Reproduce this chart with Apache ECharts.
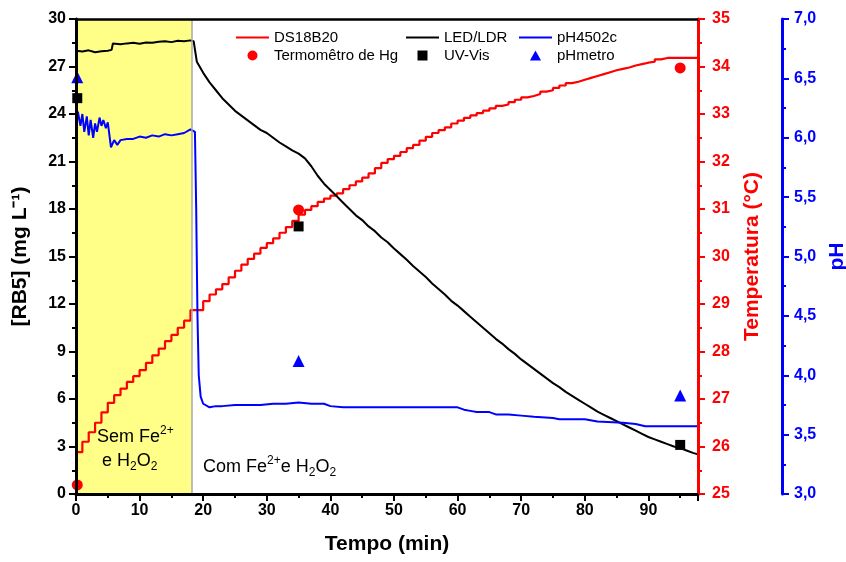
<!DOCTYPE html>
<html>
<head>
<meta charset="utf-8">
<script src="https://cdn.jsdelivr.net/npm/echarts@6/dist/echarts.min.js"></script>
<style>
  html, body { margin: 0; padding: 0; background: #fff; }
  #chart { width: 846px; height: 562px; }
</style>
</head>
<body>
<div id="chart"></div>
<script>
// DS18B20 temperatura (°C), leitura a cada minuto
const tempTime = [0,1,2,3,4,5,6,7,8,9,10,11,12,13,14,15,16,17,18,19,20,21,22,23,24,25,26,27,28,29,30,31,32,33,34,35,36,37,38,39,40,41,42,43,44,45,46,47,48,49,50,51,52,53,54,55,56,57,58,59,60,61,62,63,64,65,66,67,68,69,70,71,72,73,74,75,76,77,78,79,80,81,82,83,84,85,86,87,88,89,90,91,92,93,94,95,96,97,97.8]
const tempVals = [25.88,26.10,26.30,26.50,26.72,26.92,27.08,27.22,27.36,27.48,27.61,27.76,27.92,28.06,28.22,28.35,28.50,28.65,28.87,28.87,29.06,29.20,29.31,29.42,29.56,29.70,29.83,29.95,30.06,30.18,30.28,30.38,30.50,30.62,30.75,30.88,30.98,31.06,31.15,31.22,31.28,31.33,31.42,31.50,31.58,31.66,31.75,31.86,31.97,32.05,32.12,32.20,32.28,32.35,32.44,32.52,32.60,32.66,32.72,32.80,32.86,32.92,32.97,33.02,33.07,33.12,33.17,33.20,33.25,33.30,33.35,33.38,33.42,33.47,33.50,33.55,33.60,33.65,33.68,33.72,33.76,33.80,33.84,33.88,33.92,33.95,33.98,34.02,34.05,34.08,34.10,34.15,34.18,34.18,34.18,34.18,34.18,34.18,34.18]

// LED/LDR [RB5] (mg L-1)
const ldrTime = [0,1,2,3,4,5,5.6,5.8,7,8,9,10,11,12,13,14,15,16,17,18,18.5,19,20,21,22,23,24,25,26,27,28,29,30,31,32,33,34,35,36,37,38,39,40,41,42,43,44,45,46,47,48,49,50,51,52,53,54,55,56,57,58,59,60,61,62,63,64,65,66,67,68,69,70,71,72,73,74,75,76,77,78,79,80,81,82,83,84,85,86,87,88,89,90,91,92,93,94,95,96,97,97.8]
const ldrVals = [28.0,27.95,28.02,27.9,27.96,28.0,28.05,28.45,28.4,28.46,28.5,28.44,28.52,28.5,28.56,28.6,28.54,28.62,28.6,28.65,28.6,27.3,26.6,26.0,25.5,25.0,24.6,24.2,23.9,23.6,23.3,23.0,22.8,22.5,22.2,21.95,21.7,21.5,21.2,20.7,20.1,19.6,19.2,18.8,18.4,18.0,17.6,17.3,16.9,16.6,16.2,15.9,15.5,15.15,14.8,14.4,14.05,13.7,13.3,12.95,12.6,12.2,11.9,11.55,11.2,10.85,10.5,10.15,9.8,9.5,9.15,8.85,8.5,8.2,7.9,7.6,7.3,7.0,6.75,6.45,6.2,5.95,5.7,5.45,5.2,5.0,4.8,4.6,4.4,4.2,4.0,3.8,3.6,3.45,3.3,3.15,3.0,2.9,2.75,2.6,2.5]

// pH4502c
const phTime = [0,0.3,0.7,1.0,1.3,1.7,2.0,2.3,2.7,3.0,3.3,3.7,4.0,4.3,4.7,5.0,5.5,6.0,6.5,7,8,9,10,11,12,13,14,15,16,17,18,18.7,18.9,19.1,19.3,19.6,20,21,22,23,25,27,29,31,33,35,37,39,40,42,45,50,55,60,61,62,63,65,66,68,70,72,75,76,80,82,86,88,89.5,97.8]
const phVals = [6.05,6.22,6.10,6.20,6.05,6.18,6.02,6.15,6.00,6.12,6.05,6.17,6.10,6.15,6.08,6.13,5.92,5.98,5.94,5.98,5.99,5.99,6.01,6.00,6.02,6.01,6.03,6.02,6.03,6.04,6.07,6.05,5.40,4.50,4.00,3.82,3.76,3.73,3.74,3.74,3.75,3.75,3.75,3.76,3.76,3.77,3.76,3.76,3.74,3.73,3.73,3.73,3.73,3.73,3.71,3.70,3.69,3.69,3.67,3.67,3.66,3.65,3.64,3.63,3.63,3.61,3.60,3.59,3.57,3.57]

// medidas de referência
const hgTime = [0.2, 35, 95]
const hgVals = [25.19, 30.98, 33.97]
const uvTime = [0.2, 35, 95]
const uvVals = [25.0, 16.9, 3.1]
const phmTime = [0.2, 35, 95]
const phmVals = [6.51, 4.12, 3.83]

const shadeEnd = 18.2

const pairs = (xs, ys) => xs.map((x, i) => [x, ys[i]])

const font = 'Liberation Sans, Arial, sans-serif'
const squareIcon = 'path://M0,0L10,0L10,10L0,10Z'
const triangleIcon = 'path://M5,0L10,9L0,9Z'
const chart = echarts.init(document.getElementById('chart'))

const legendBase = {
  orient: 'vertical',
  top: 25,
  itemWidth: 33,
  itemHeight: 10,
  itemGap: 3,
  symbolKeepAspect: true,
  textStyle: { fontFamily: font, fontSize: 15, color: '#000' },
  selectedMode: false
}

const hideSymbol = { opacity: 0 }

const option = {
  animation: false,
  textStyle: { fontFamily: font },
  grid: { left: 76, right: 148, top: 19, bottom: 68, outerBoundsMode: 'none', containLabel: false },
  legend: [
    Object.assign({ left: 230, data: [{ name: 'DS18B20', itemStyle: hideSymbol }, { name: 'Termomêtro de Hg', icon: 'circle' }] }, legendBase),
    Object.assign({ left: 400, data: [{ name: 'LED/LDR', itemStyle: hideSymbol }, { name: 'UV-Vis', icon: squareIcon }] }, legendBase),
    Object.assign({ left: 513, data: [{ name: 'pH4502c', itemStyle: hideSymbol }, { name: 'pHmetro', icon: triangleIcon }] }, legendBase)
  ],
  xAxis: [
    {
      type: 'value', min: 0, max: 97.8, interval: 10, z: 5,
      name: 'Tempo (min)', nameLocation: 'middle', nameGap: 40,
      nameTextStyle: { fontSize: 21, fontWeight: 'bold', color: '#000' },
      axisLine: { onZero: false, lineStyle: { color: '#000', width: 3 } },
      axisTick: { show: true, inside: false, length: 7, lineStyle: { width: 2, color: '#000' } },
      minorTick: { show: true, splitNumber: 2, length: 4, lineStyle: { width: 2, color: '#000' } },
      axisLabel: { fontSize: 16, fontWeight: 'bold', color: '#000', margin: 9, showMaxLabel: false },
      splitLine: { show: false }
    },
    {
      type: 'value', position: 'top', min: 0, max: 97.8, z: 5,
      axisLine: { onZero: false, lineStyle: { color: '#000', width: 2.5 } },
      axisTick: { show: false }, axisLabel: { show: false }, splitLine: { show: false }
    }
  ],
  yAxis: [
    {
      type: 'value', min: 0, max: 30, interval: 3, position: 'left', z: 5,
      name: '[RB5] (mg L⁻¹)', nameLocation: 'middle', nameGap: 45,
      nameTextStyle: { fontSize: 21, fontWeight: 'bold', color: '#000' },
      axisLine: { show: true, onZero: false, lineStyle: { color: '#000', width: 3 } },
      axisTick: { show: true, inside: false, length: 7, lineStyle: { width: 2, color: '#000' } },
      minorTick: { show: true, splitNumber: 2, length: 4, lineStyle: { width: 2, color: '#000' } },
      axisLabel: { fontSize: 16, fontWeight: 'bold', color: '#000', margin: 10 },
      splitLine: { show: false }
    },
    {
      type: 'value', min: 25, max: 35, interval: 1, position: 'right', offset: 0, z: 5,
      name: 'Temperatura (°C)', nameLocation: 'middle', nameGap: 44,
      nameTextStyle: { fontSize: 21, fontWeight: 'bold', color: '#f00' },
      axisLine: { show: true, onZero: false, lineStyle: { color: '#f00', width: 3 } },
      axisTick: { show: true, inside: false, length: 7, lineStyle: { width: 2, color: '#f00' } },
      minorTick: { show: true, splitNumber: 2, length: 4, lineStyle: { width: 2, color: '#f00' } },
      axisLabel: { fontSize: 16, fontWeight: 'bold', color: '#f00', margin: 14 },
      splitLine: { show: false }
    },
    {
      type: 'value', min: 3, max: 7, interval: 0.5, position: 'right', offset: 84, z: 5,
      name: 'pH', nameLocation: 'middle', nameGap: 43,
      nameTextStyle: { fontSize: 21, fontWeight: 'bold', color: '#00f' },
      axisLine: { show: true, onZero: false, lineStyle: { color: '#00f', width: 3 } },
      axisTick: { show: true, inside: false, length: 7, lineStyle: { width: 2, color: '#00f' } },
      minorTick: { show: true, splitNumber: 2, length: 4, lineStyle: { width: 2, color: '#00f' } },
      axisLabel: {
        fontSize: 16, fontWeight: 'bold', color: '#00f', margin: 12,
        formatter: v => v.toFixed(1).replace('.', ',')
      },
      splitLine: { show: false }
    }
  ],
  graphic: [
    {
      type: 'text', left: 97, top: 425, silent: true, z: 10,
      style: {
        text: '{a|Sem Fe}{s|2+}',
        rich: {
          a: { fontSize: 18, lineHeight: 24, fontFamily: font, fill: '#000' },
          s: { fontSize: 12, fontFamily: font, fill: '#000', verticalAlign: 'top' }
        }
      }
    },
    {
      type: 'text', left: 102, top: 452, silent: true, z: 10,
      style: {
        text: '{a|e H}{b|2}{a|O}{b|2}',
        rich: {
          a: { fontSize: 18, lineHeight: 24, fontFamily: font, fill: '#000' },
          b: { fontSize: 12, fontFamily: font, fill: '#000', verticalAlign: 'bottom' }
        }
      }
    },
    {
      type: 'text', left: 203, top: 455, silent: true, z: 10,
      style: {
        text: '{a|Com Fe}{s|2+}{a|e H}{b|2}{a|O}{b|2}',
        rich: {
          a: { fontSize: 18, lineHeight: 24, fontFamily: font, fill: '#000' },
          s: { fontSize: 12, fontFamily: font, fill: '#000', verticalAlign: 'top' },
          b: { fontSize: 12, fontFamily: font, fill: '#000', verticalAlign: 'bottom' }
        }
      }
    }
  ],
  series: [
    {
      name: 'shade', type: 'line', xAxisIndex: 0, yAxisIndex: 0, data: [], z: 0, silent: true,
      markArea: {
        silent: true,
        itemStyle: { color: '#ffff88', borderWidth: 0 },
        data: [[{ xAxis: 0, yAxis: 0 }, { xAxis: shadeEnd, yAxis: 30 }]]
      },
      markLine: {
        silent: true, symbol: 'none', label: { show: false },
        lineStyle: { color: '#a8a8a8', width: 1.5, type: 'solid' },
        data: [{ xAxis: shadeEnd }]
      }
    },
    {
      name: 'DS18B20', type: 'line', xAxisIndex: 0, yAxisIndex: 1,
      data: pairs(tempTime, tempVals), step: 'end', symbol: 'none', z: 3,
      lineStyle: { color: '#f00', width: 2.2 }, itemStyle: { color: '#f00' }
    },
    {
      name: 'LED/LDR', type: 'line', xAxisIndex: 0, yAxisIndex: 0,
      data: pairs(ldrTime, ldrVals), symbol: 'none', z: 3,
      lineStyle: { color: '#000', width: 2 }, itemStyle: { color: '#000' }
    },
    {
      name: 'pH4502c', type: 'line', xAxisIndex: 0, yAxisIndex: 2,
      data: pairs(phTime, phVals), symbol: 'none', z: 3,
      lineStyle: { color: '#00f', width: 2 }, itemStyle: { color: '#00f' }
    },
    {
      name: 'Termomêtro de Hg', type: 'scatter', xAxisIndex: 0, yAxisIndex: 1,
      data: pairs(hgTime, hgVals), symbol: 'circle', symbolSize: 11, z: 4,
      itemStyle: { color: '#f00', opacity: 1 }
    },
    {
      name: 'UV-Vis', type: 'scatter', xAxisIndex: 0, yAxisIndex: 0,
      data: pairs(uvTime, uvVals), symbol: 'rect', symbolSize: 10, z: 4,
      itemStyle: { color: '#000', opacity: 1 }
    },
    {
      name: 'pHmetro', type: 'scatter', xAxisIndex: 0, yAxisIndex: 2,
      data: pairs(phmTime, phmVals), symbol: 'triangle', symbolSize: 12, z: 4,
      itemStyle: { color: '#00f', opacity: 1 }
    }
  ]
}

chart.setOption(option)
</script>
</body>
</html>
